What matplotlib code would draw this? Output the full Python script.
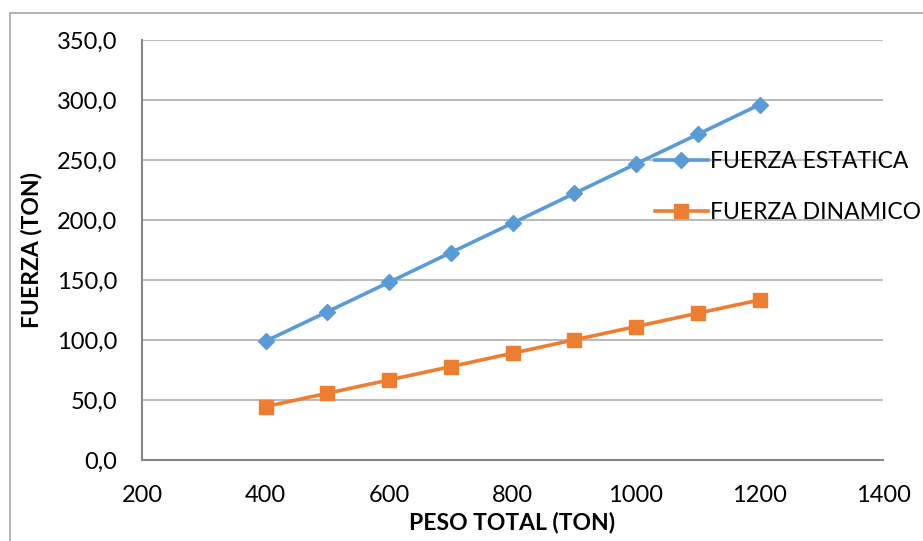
import matplotlib
matplotlib.use("Agg")
import matplotlib.pyplot as plt
from matplotlib.patches import Rectangle
from matplotlib.ticker import FuncFormatter

peso = [400, 500, 600, 700, 800, 900, 1000, 1100, 1200]
fuerza_estatica = [99.0, 123.5, 148.1, 172.8, 197.4, 222.1, 246.8, 271.4, 296.1]
fuerza_dinamico = [44.5, 55.6, 66.7, 77.8, 89.0, 100.1, 111.2, 122.3, 133.4]

plt.rcParams['font.family'] = ['Lato', 'DejaVu Sans']

W, H = 923, 541
fig = plt.figure(figsize=(W / 100, H / 100), dpi=100)
ax = fig.add_axes([142 / W, (H - 460) / H, (883 - 142) / W, (460 - 40) / H])

# outer chart frame
fig.patches.append(Rectangle((10 / W, -0.1), 1.2, (H - 13) / H + 0.1,
                             transform=fig.transFigure, fill=False,
                             edgecolor='#A6A6A6', linewidth=1.2))

ax.plot(peso, fuerza_estatica, color='#5B9BD5', lw=2.6, marker='D', ms=8,
        label='FUERZA ESTATICA', clip_on=False, zorder=3)
ax.plot(peso, fuerza_dinamico, color='#ED7D31', lw=2.6, marker='s', ms=10,
        label='FUERZA DINAMICO', clip_on=False, zorder=3)

ax.set_xlim(200, 1400)
ax.set_ylim(0, 350)
ax.set_xticks(range(200, 1401, 200))
ax.set_yticks(range(0, 351, 50))
ax.yaxis.set_major_formatter(FuncFormatter(lambda v, p: f"{v:.1f}".replace('.', ',')))
ax.grid(axis='y', color='#A6A6A6', lw=1.1)
ax.set_axisbelow(True)
for s in ['top', 'right']:
    ax.spines[s].set_visible(False)
for s in ['left', 'bottom']:
    ax.spines[s].set_color('#868686')
    ax.spines[s].set_linewidth(1.5)
ax.tick_params(length=0, labelsize=17, pad=18)
ax.tick_params(axis='x', pad=18)

ax.set_xlabel('PESO TOTAL (TON)', fontsize=16.5, fontweight='bold', labelpad=4)
ax.set_ylabel('FUERZA (TON)', fontsize=16.5, fontweight='bold', labelpad=10)

fig.legend(loc='center left', bbox_to_anchor=(655 / W, 1 - 187 / H), frameon=False,
           fontsize=16.5, handlelength=2.3, handletextpad=0.1, labelspacing=1.3,
           borderpad=0, borderaxespad=0)

fig.savefig('out.png', dpi=100)
